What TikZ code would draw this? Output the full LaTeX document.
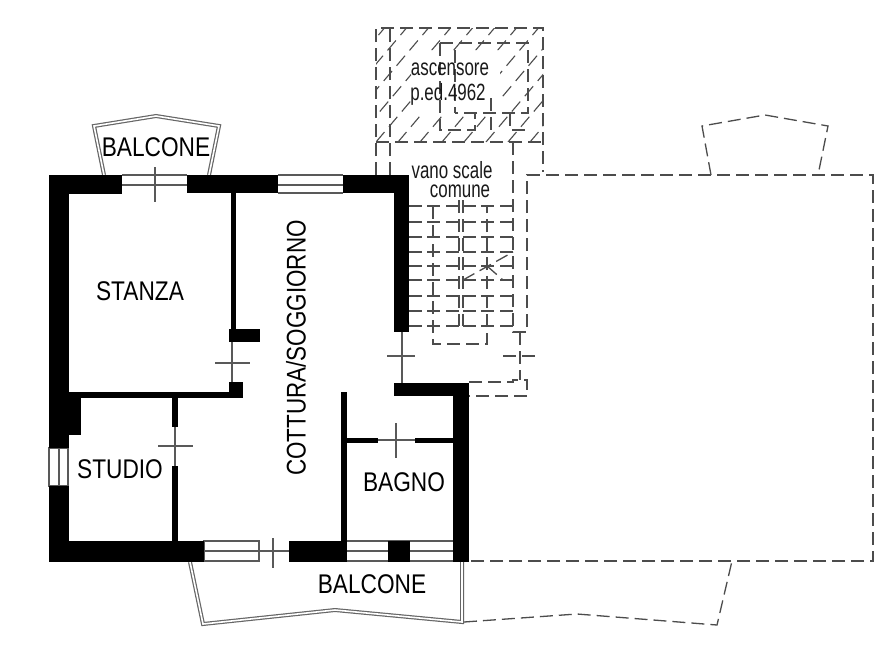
\documentclass[tikz,border=0pt]{standalone}
\usepackage{fontspec}
\setmainfont{Liberation Sans}
\usepackage{tikz}
\newcommand{\cond}[2]{\scalebox{#1}[1]{#2}}
\tikzset{
  wall/.style={fill=black,draw=none},
  thin line/.style={draw=black!65,line width=1.1pt},
  rail/.style={draw=black!60,line width=1.2pt,double=white,double distance=1.6pt},
  hidden/.style={draw=black!70,line width=1.3pt,dash pattern=on 13pt off 6pt},
  hatch/.style={draw=black!70,line width=1.1pt,dash pattern=on 13pt off 7pt},
  room/.style={font=\fontsize{27}{27}\selectfont,inner sep=0pt,text=black},
  small/.style={font=\fontsize{23.5}{24}\selectfont,inner sep=0pt,text=black!90}
}
\begin{document}
\begin{tikzpicture}[x=1pt,y=-1pt]
\useasboundingbox[fill=white] (0,0) rectangle (893,670);
% hatching of the lift
\begin{scope}[even odd rule]
 \clip (376,28) rectangle (543,142) (411,50) rectangle (500,112);
 \foreach \c in {266,288,...,552}
   \draw[hatch] (\c,142) -- ++(110,-130);
\end{scope}
% lift and stair well
\draw[hidden] (376,175) -- (376,28) -- (543,28) -- (543,172);
\draw[hidden] (376,142) -- (543,142);
\draw[hidden] (390,175) -- (390,28);
\draw[hidden] (440,43) -- (528,43) -- (528,113) -- (455,113);
\draw[hidden] (440,43) -- (440,130) -- (475,130) -- (475,113);
\draw[hidden] (455,50) -- (455,113);
\draw[hidden] (491,98) -- (491,130);
\draw[hidden] (510,113) -- (510,130) -- (525,130);
% stairs
\foreach \y in {206,222,237,252,266,280,296,311,326}
  \foreach \a/\b in {409/422,427/440,446/459,463/476,481/494,500/513}
    \draw[draw=black!70,line width=1.2pt] (\a,\y) -- (\b,\y);
\draw[hidden] (433,206) -- (433,344) -- (487,344) -- (487,206);
\draw[hidden] (459,200) -- (459,326);
\draw[hidden] (463,200) -- (463,326);
\draw[hidden] (513,142) -- (513,332) -- (527,332) -- (527,175) -- (873,175) -- (873,561) -- (469,561);
\draw[hidden] (463,280) -- (513,252);
\draw[hidden] (487,266) -- (503,280);
\draw[hidden] (520,332) -- (520,380);
\draw[hidden] (503,356) -- (537,356);
\draw[hidden] (469,382) -- (513,382) -- (513,380) -- (527,380) -- (527,396) -- (469,396);
% dashed balconies
\draw[hidden] (711,175) -- (702,126) -- (765,115) -- (828,126) -- (818,175);
\draw[hidden] (464,622) -- (577,614) -- (717,625) -- (732,561);
% balconies
\draw[rail] (104,175) -- (94,126) -- (156,116) -- (219,126) -- (209,175);
\draw[rail] (190,562) -- (203,624) -- (335,610) -- (462,622) -- (462,562);
% windows
\draw[thin line] (122,175) -- (187,175) (122,185) -- (187,185) (155,167) -- (155,202);
\draw[thin line] (278,175) -- (343,175) (278,185) -- (343,185) (278,193) -- (343,193);
\draw[thin line] (49,448) rectangle (68,486) (59,448) -- (59,486);
\draw[thin line] (204,541) rectangle (259,561) (204,551) -- (289,551) (273,538) -- (273,568);
\draw[thin line] (347,541) -- (453,541) (347,551) -- (453,551) (347,561) -- (453,561);
% doors
\draw[thin line] (232,342) -- (232,382) (215,363) -- (250,363);
\draw[thin line] (175,427) -- (175,466) (158,446) -- (193,446);
\draw[thin line] (402,332) -- (402,383) (387,356) -- (415,356);
\draw[thin line] (378,440) -- (415,440) (396,423) -- (396,458);
% walls
\fill[wall] (49,175) rectangle (122,194);
\fill[wall] (187,175) rectangle (278,193);
\fill[wall] (343,175) rectangle (409,193);
\fill[wall] (394,175) rectangle (409,332);
\fill[wall] (49,175) rectangle (69,448);
\fill[wall] (49,486) rectangle (69,562);
\fill[wall] (49,541) rectangle (204,562);
\fill[wall] (69,392) rectangle (243,398);
\fill[wall] (69,392) rectangle (81,435);
\fill[wall] (231,193) rectangle (236,335);
\fill[wall] (229,329) rectangle (260,342);
\fill[wall] (229,382) rectangle (243,398);
\fill[wall] (172,398) rectangle (178,427);
\fill[wall] (172,466) rectangle (178,541);
\fill[wall] (289,541) rectangle (347,562);
\fill[wall] (388,541) rectangle (410,562);
\fill[wall] (453,383) rectangle (469,562);
\fill[wall] (394,383) rectangle (469,396);
\fill[wall] (341,392) rectangle (347,541);
\fill[wall] (347,438) rectangle (378,443);
\fill[wall] (415,438) rectangle (453,443);
% labels
\node[room] (balconetop) at (156,147) {\cond{.84}{BALCONE}};
\node[room] (stanza) at (140,291) {\cond{.84}{STANZA}};
\node[room] (studio) at (120,469) {\cond{.84}{STUDIO}};
\node[room] (bagno) at (404,482) {\cond{.84}{BAGNO}};
\node[room] (balconebot) at (372,584) {\cond{.84}{BALCONE}};
\node[room,rotate=90] (cottura) at (296,348) {\cond{.83}{COTTURA/SOGGIORNO}};
\node[small] (ascensore) at (450,69) {\cond{.72}{ascensore}};
\node[small] (ped) at (448,94) {\cond{.72}{p.ed.4962}};
\node[small] (vano) at (452,170) {\cond{.72}{vano scale}};
\node[small] (comune) at (460,191) {\cond{.72}{comune}};
\end{tikzpicture}
\end{document}
